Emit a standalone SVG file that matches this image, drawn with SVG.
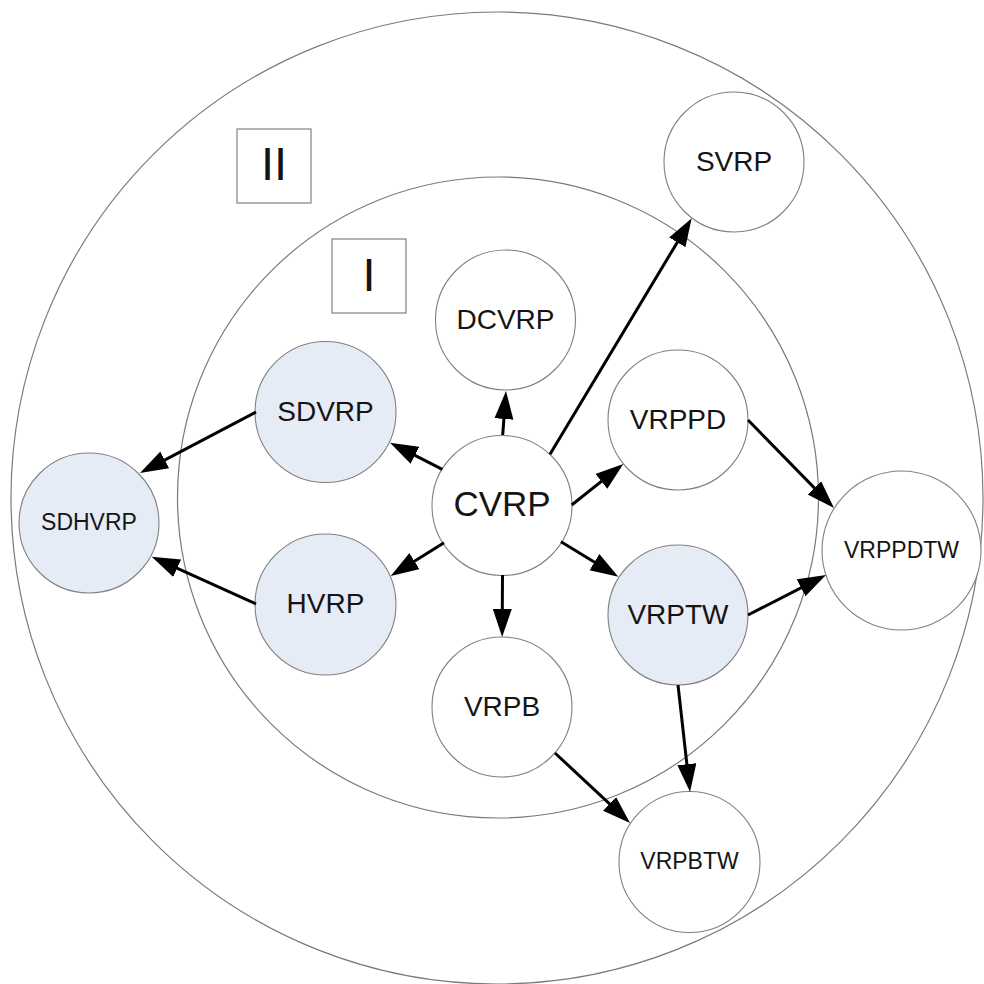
<svg xmlns="http://www.w3.org/2000/svg" width="984" height="984" viewBox="0 0 984 984">
<style>
.ring{fill:none;stroke:#7a7a7a;stroke-width:1.2}
.box{fill:#fff;stroke:#808080;stroke-width:1.2}
.node{fill:#fff;stroke:#808080;stroke-width:1.1}
.blue{fill:#e6ecf6}
.lbl{font-family:"Liberation Sans",Arial,sans-serif;fill:#151515;text-anchor:middle}
.m{font-size:28px}
.s{font-size:23px}
.big{font-size:35px}
.roman{font-size:47px}
.edge{stroke:#000;stroke-width:3;fill:none;marker-end:url(#ah)}
</style>
<defs>
<marker id="ah" markerUnits="userSpaceOnUse" markerWidth="30" markerHeight="20" refX="18" refY="9.5" orient="auto">
<path d="M0,0 L28,9.5 L0,19 z" fill="#000"/>
</marker>
</defs>
<rect width="984" height="984" fill="#fff"/>
<g id="rings">
<circle class="ring" cx="497" cy="498" r="486"/>
<circle class="ring" cx="498" cy="497.5" r="320.5"/>
</g>
<g id="box-II">
<rect class="box" x="237" y="129" width="74" height="74"/>
<text class="lbl roman" x="274" y="180">II</text>
</g>
<g id="box-I">
<rect class="box" x="332" y="239" width="74" height="74"/>
<text class="lbl roman" x="369" y="290.5">I</text>
</g>
<g id="SVRP"><circle class="node" cx="734" cy="162" r="70"/><text class="lbl m" x="734" y="170.5">SVRP</text></g>
<g id="DCVRP"><circle class="node" cx="505.5" cy="320" r="70"/><text class="lbl m" x="505.5" y="328.5">DCVRP</text></g>
<g id="SDVRP"><circle class="node blue" cx="325.5" cy="412" r="70.5"/><text class="lbl m" x="325.5" y="421">SDVRP</text></g>
<g id="HVRP"><circle class="node blue" cx="325.5" cy="604.5" r="70.5"/><text class="lbl m" x="325.5" y="613">HVRP</text></g>
<g id="SDHVRP"><circle class="node blue" cx="89" cy="523" r="70"/><text class="lbl s" x="89" y="530">SDHVRP</text></g>
<g id="CVRP"><circle class="node" cx="502" cy="505.5" r="70"/><text class="lbl big" x="502" y="516">CVRP</text></g>
<g id="VRPPD"><circle class="node" cx="678" cy="420" r="70"/><text class="lbl m" x="678" y="428.5">VRPPD</text></g>
<g id="VRPTW"><circle class="node blue" cx="678" cy="615" r="70"/><text class="lbl m" x="678" y="623.5">VRPTW</text></g>
<g id="VRPB"><circle class="node" cx="502" cy="707" r="70"/><text class="lbl m" x="502" y="715.5">VRPB</text></g>
<g id="VRPPDTW"><circle class="node" cx="901.5" cy="550.5" r="79.5"/><text class="lbl s" x="901.5" y="557.5">VRPPDTW</text></g>
<g id="VRPBTW"><circle class="node" cx="689.5" cy="862" r="70.5"/><text class="lbl s" x="689.5" y="869">VRPBTW</text></g>
<g id="connectors">
<line class="edge" x1="502.7" y1="435" x2="505.25" y2="401"/>
<line class="edge" x1="442.3" y1="469.3" x2="398.9" y2="447.2"/>
<line class="edge" x1="550" y1="454.3" x2="686.55" y2="226.9"/>
<line class="edge" x1="571.7" y1="505" x2="615.5" y2="470.2"/>
<line class="edge" x1="444" y1="542.7" x2="399.2" y2="570.7"/>
<line class="edge" x1="561" y1="541.7" x2="609.8" y2="571.5"/>
<line class="edge" x1="502.5" y1="575" x2="502.2" y2="627"/>
<line class="edge" x1="256" y1="412" x2="148.85" y2="468.3"/>
<line class="edge" x1="256" y1="604" x2="160.8" y2="560.8"/>
<line class="edge" x1="748" y1="420" x2="827" y2="500.85"/>
<line class="edge" x1="748" y1="615" x2="817.1" y2="579.6"/>
<line class="edge" x1="678" y1="685" x2="688.9" y2="782.1"/>
<line class="edge" x1="555" y1="753" x2="622.7" y2="816.2"/>
</g>
</svg>
